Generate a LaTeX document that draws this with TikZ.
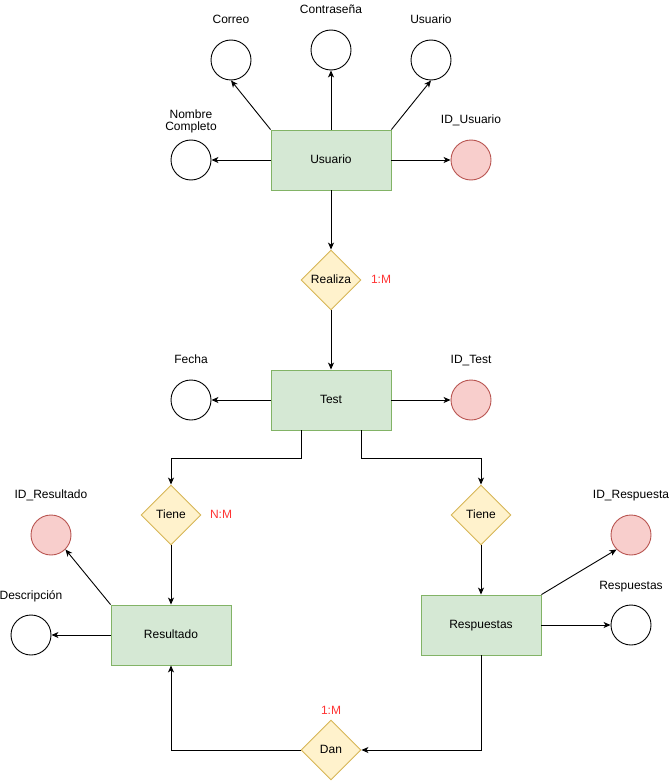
\documentclass[tikz,border=0pt]{standalone}
\usepackage{fontspec}
\setmainfont{Liberation Sans}
\usetikzlibrary{shapes.geometric,arrows.meta}
\definecolor{entfill}{HTML}{D5E8D4}
\definecolor{entline}{HTML}{82B366}
\definecolor{relfill}{HTML}{FFF2CC}
\definecolor{relline}{HTML}{D6B656}
\definecolor{keyfill}{HTML}{F8CECC}
\definecolor{keyline}{HTML}{B85450}
\definecolor{cardred}{HTML}{FF3333}
\tikzset{
  every node/.style={font=\fontsize{12}{14}\selectfont},
  boxtext/.style={text height=8.6pt, text depth=2.4pt},
  entity/.style={draw=entline, fill=entfill, line width=0.9pt, minimum width=120pt, minimum height=60pt, inner sep=0pt, boxtext},
  relation/.style={diamond, draw=relline, fill=relfill, line width=0.9pt, minimum width=60pt, minimum height=60pt, inner sep=0pt, aspect=1, boxtext},
  attr/.style={circle, draw=black, fill=white, line width=0.9pt, minimum size=40pt, inner sep=0pt},
  keyattr/.style={circle, draw=keyline, fill=keyfill, line width=0.9pt, minimum size=40pt, inner sep=0pt},
  lbl/.style={inner sep=0pt, align=center},
  card/.style={inner sep=0pt, text=cardred, boxtext},
  conn/.style={draw=black, line width=0.9pt, -{Stealth[length=7pt,width=6pt,inset=2pt]}}
}
\begin{document}
\begin{tikzpicture}[x=1pt,y=-1pt]
\useasboundingbox (0,0) rectangle (669,781);

% ---- Usuario ----
\node[entity] (usuario) at (331,160) {Usuario};
\node[attr] (correo) at (231,60) {};
\node[attr] (pass) at (331,50) {};
\node[attr] (user) at (431,60) {};
\node[attr] (nombre) at (191,160) {};
\node[keyattr] (idusuario) at (471,160) {};
\node[lbl,boxtext] (lcorreo) at (231,20) {Correo};
\node[lbl,boxtext] (lpass) at (331,10) {Contraseña};
\node[lbl,boxtext] (luser) at (431,20) {Usuario};
\node[lbl] (lnombre) at (191,121) {Nombre\\[-2pt]Completo};
\node[lbl,boxtext] (lidusuario) at (471,120) {ID\_Usuario};

\draw[conn] (usuario.north west) -- (correo.south);
\draw[conn] (usuario.north) -- (pass.south);
\draw[conn] (usuario.north east) -- (user.south);
\draw[conn] (usuario.west) -- (nombre.east);
\draw[conn] (usuario.east) -- (idusuario.west);

% ---- Realiza ----
\node[relation] (realiza) at (331,280) {Realiza};
\node[card] (c1) at (381,280) {1:M};
\draw[conn] (usuario.south) -- (realiza.north);

% ---- Test ----
\node[entity] (test) at (331,400) {Test};
\node[attr] (fecha) at (191,400) {};
\node[keyattr] (idtest) at (471,400) {};
\node[lbl,boxtext] (lfecha) at (191,360) {Fecha};
\node[lbl,boxtext] (lidtest) at (471,360) {ID\_Test};
\draw[conn] (realiza.south) -- (test.north);
\draw[conn] (test.west) -- (fecha.east);
\draw[conn] (test.east) -- (idtest.west);

% ---- Tiene (Resultado side) ----
\node[relation] (tiene1) at (171,515) {Tiene};
\node[card] (c2) at (221,515) {N:M};
\coordinate (t1a) at (301,430);
\coordinate (t2a) at (361,430);
\draw[conn] (t1a) -- (301,458) -| (tiene1.north);

% ---- Resultado ----
\node[entity] (resultado) at (171,635) {Resultado};
\node[keyattr] (idres) at (51,535) {};
\node[attr] (desc) at (31,635) {};
\node[lbl,boxtext] (lidres) at (51,495) {ID\_Resultado};
\node[lbl,boxtext] (ldesc) at (31,596) {Descripción};
\draw[conn] (tiene1.south) -- (resultado.north);
\draw[conn] (resultado.north west) -- (idres.south east);
\draw[conn] (resultado.west) -- (desc.east);

% ---- Tiene (Respuestas side) ----
\node[relation] (tiene2) at (481,515) {Tiene};
\draw[conn] (t2a) -- (361,458) -| (tiene2.north);

% ---- Respuestas ----
\node[entity] (resp) at (481,625) {Respuestas};
\node[keyattr] (idresp) at (631,535) {};
\node[attr] (respattr) at (631,625) {};
\node[lbl,boxtext] (lidresp) at (631,495) {ID\_Respuesta};
\node[lbl,boxtext] (lrespattr) at (631,586) {Respuestas};
\draw[conn] (tiene2.south) -- (resp.north);
\draw[conn] (resp.north east) -- (idresp.south west);
\draw[conn] (resp.east) -- (respattr.west);

% ---- Dan ----
\node[relation] (dan) at (331,750) {Dan};
\node[card] (c3) at (331,711) {1:M};
\draw[conn] (resp.south) |- (dan.east);
\draw[conn] (dan.west) -| (resultado.south);
\end{tikzpicture}
\end{document}
